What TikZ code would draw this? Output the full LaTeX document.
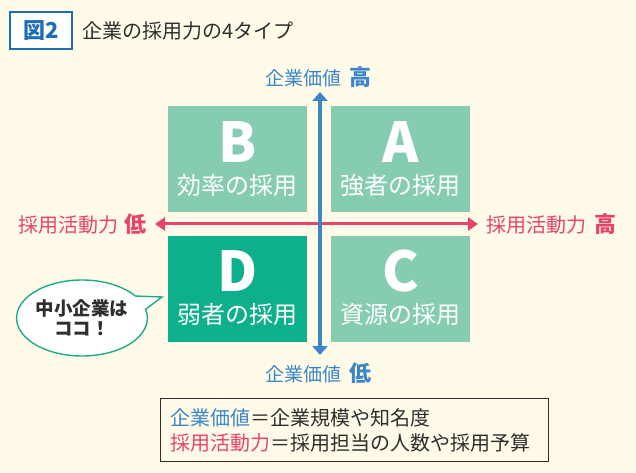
\documentclass[tikz,border=0pt]{standalone}
\usepackage{fontspec}
\setmainfont{Noto Sans CJK JP}
\usetikzlibrary{arrows.meta,shapes.callouts}
\definecolor{bgc}{HTML}{FFFBE8}
\definecolor{lightg}{HTML}{86CCB1}
\definecolor{darkg}{HTML}{0DB08B}
\definecolor{axblue}{HTML}{3A86C8}
\definecolor{axpink}{HTML}{E8436A}
\definecolor{ttlblue}{HTML}{1E6DB5}
\definecolor{txtdark}{HTML}{2E2E2E}
\definecolor{bubline}{HTML}{1FAA88}
\newcommand\myfs[1]{\fontsize{#1bp}{#1bp}\selectfont}
\tikzset{
  quad/.style={fill=lightg, minimum width=139bp, minimum height=105.7bp, inner sep=0, anchor=north west},
  letter/.style={text=white, inner sep=0, font=\myfs{55}\bfseries},
  qsub/.style={text=white, inner sep=0, font=\myfs{24}},
  bluelbl/.style={text=axblue, inner sep=0},
  pinklbl/.style={text=axpink, inner sep=0},
}
\begin{document}
\begin{tikzpicture}[x=1bp,y=-1bp]
\fill[bgc] (0,0) rectangle (636,473);
\useasboundingbox (0,0) rectangle (636,473);
% title
\node[draw=ttlblue, line width=1.3bp, fill=white, minimum width=62bp, minimum height=37bp, inner sep=0, text=ttlblue, font=\myfs{22}\bfseries] (fig) at (41,30.5) {図2};
\node[anchor=west, inner sep=0, text=txtdark, font=\myfs{20}] (title) at (82,31) {企業の採用力の4タイプ};
% quadrants
\node[quad] (B) at (167.7,106) {};
\node[quad] (A) at (331,106) {};
\node[quad, fill=darkg] (D) at (167.7,235.7) {};
\node[quad] (C) at (331,235.7) {};
\foreach \q/\l/\s in {B/B/効率の採用, A/A/強者の採用, D/D/弱者の採用, C/C/資源の採用}{
  \node[letter] (\q let) at ([yshift=-35.7bp]\q.north) {\l};
  \node[qsub] (\q sub) at ([yshift=-79bp]\q.north) {\s};
}
% axes
\coordinate (vtop) at (320,92);
\coordinate (vbot) at (320,355);
\coordinate (hleft) at (155,224);
\coordinate (hright) at (478,224);
\draw[axpink, line width=3bp, {Triangle[width=13bp,length=10bp]}-{Triangle[width=13bp,length=10bp]}] (hleft) -- (hright);
\draw[axblue, line width=3.5bp, {Triangle[width=15bp,length=9bp]}-{Triangle[width=15bp,length=9bp]}] (vtop) -- (vbot);
% axis labels
\node[bluelbl] (ltop) at (318.5,77) {\myfs{19}企業価値\hspace{8bp}{\myfs{22}\bfseries 高}};
\node[bluelbl] (lbot) at (318.5,373) {\myfs{19}企業価値\hspace{8bp}{\myfs{22}\bfseries 低}};
\node[pinklbl] (lleft) at (82.5,224) {\myfs{20}採用活動力\hspace{6bp}{\myfs{22}\bfseries 低}};
\node[pinklbl] (lright) at (551,224) {\myfs{20}採用活動力\hspace{8bp}{\myfs{22}\bfseries 高}};
% speech bubble
\coordinate (tip) at (162,297);
\node[ellipse callout, draw=bubline, line width=1.4bp, fill=white, minimum width=122bp, minimum height=76bp, inner sep=0, callout absolute pointer={(tip)}, callout pointer arc=22, align=center, text=txtdark, font=\myfs{18.5}\bfseries] (bub) at (82,318) {中小企業は\\[1.5bp]ココ！};
% legend
\node[draw=txtdark, line width=1bp, minimum width=388bp, minimum height=63bp, inner sep=0] (leg) at (354,429.5) {};
\node[anchor=west, inner sep=0, font=\myfs{20}, text=txtdark] (leg1) at (170,418) {\textcolor{axblue}{企業価値}＝企業規模や知名度};
\node[anchor=west, inner sep=0, font=\myfs{20}, text=txtdark] (leg2) at (170,443) {\textcolor{axpink}{採用活動力}＝採用担当の人数や採用予算};
\end{tikzpicture}
\end{document}
